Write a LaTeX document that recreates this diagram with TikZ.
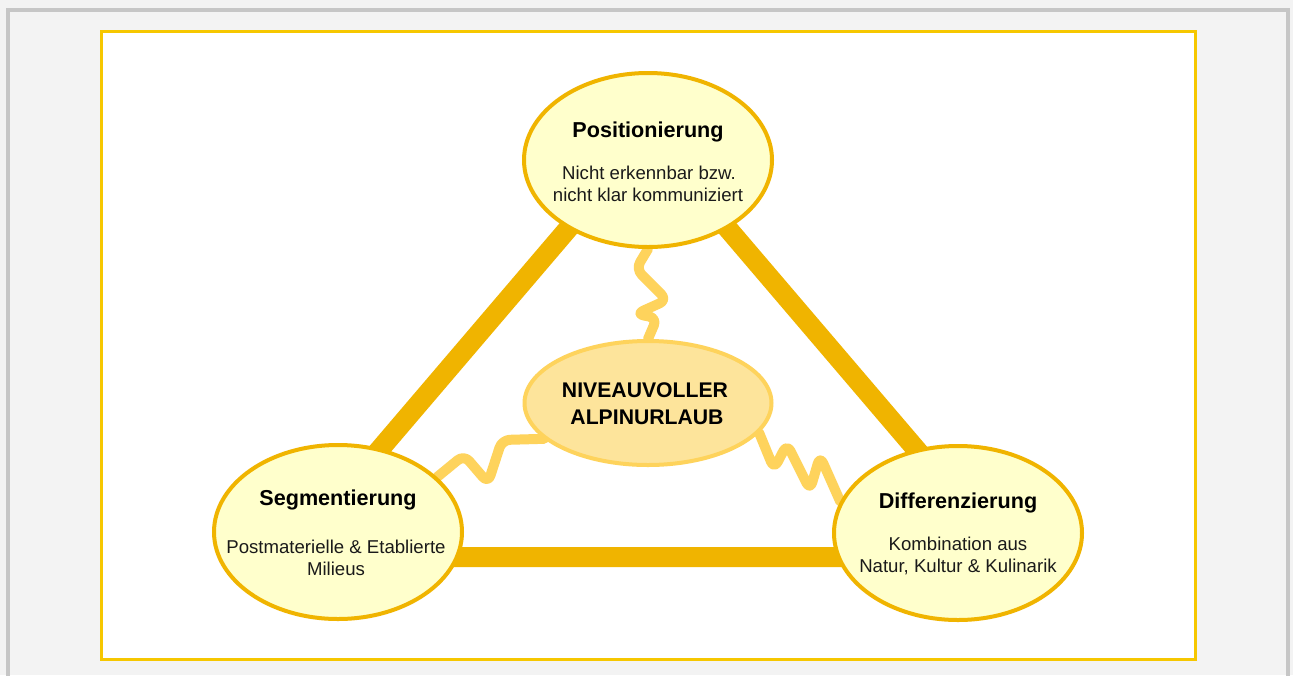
\documentclass[tikz,border=0pt]{standalone}
\usepackage{fontspec}
\setmainfont{Liberation Sans}
\usetikzlibrary{shapes.geometric}
\definecolor{pagegray}{HTML}{F3F3F3}
\definecolor{framegray}{HTML}{C6C6C6}
\definecolor{panelyellow}{HTML}{F6C700}
\definecolor{ambertone}{HTML}{F0B400}
\definecolor{paleyellow}{HTML}{FFFFCC}
\definecolor{softgold}{HTML}{FED35C}
\definecolor{hubfill}{HTML}{FDE49B}
\definecolor{subtext}{HTML}{1A1A1A}
\pgfdeclarelayer{canvas}
\pgfdeclarelayer{links}
\pgfsetlayers{canvas,links,main}
\begin{document}
\begin{tikzpicture}[x=1pt,y=-1pt,
  outer/.style={ellipse, draw=ambertone, line width=4pt, fill=paleyellow,
    minimum width=248pt, minimum height=174pt, inner sep=0pt},
  hub/.style={ellipse, draw=softgold, line width=4pt, fill=hubfill,
    minimum width=247pt, minimum height=124pt, inner sep=0pt},
  ttl/.style={anchor=base, inner sep=0pt, font=\fontsize{21.6}{24}\selectfont\bfseries},
  hubtxt/.style={anchor=base, inner sep=0pt, font=\fontsize{21.2}{24}\selectfont\bfseries},
  sub/.style={anchor=base, inner sep=0pt, font=\fontsize{18.6}{22}\selectfont, text=subtext},
  tri/.style={draw=ambertone, line width=20pt},
  wave/.style={draw=softgold, line width=10pt, line cap=round, line join=round, rounded corners=8pt}
]
\useasboundingbox (0,0) rectangle (1293,675);

% page and frames
\begin{pgfonlayer}{canvas}
  \fill[pagegray] (0,0) rectangle (1293,675);
  \draw[framegray, line width=4pt] (8,700) -- (8,9.5) -- (1287.5,9.5) -- (1287.5,700);
  \draw[panelyellow, line width=3pt, fill=white] (101.5,31) rectangle (1195.5,659.5);
\end{pgfonlayer}

% the three pillars and the core
\node[outer] (pos)  at (648,160) {};
\node[outer] (seg)  at (338,532) {};
\node[outer] (diff) at (958,533) {};
\node[hub]   (core) at (648,403) {};

% triangle corners, hidden inside the ellipses
\coordinate (vt) at (648,135);
\coordinate (vl) at (288,557);
\coordinate (vr) at (1008,557);

\begin{pgfonlayer}{links}
  \draw[tri] (vt) -- (vl) -- (vr) -- cycle;
  % wavy links from the core to each pillar
  \draw[wave] (pos.south) -- (636,269) -- (667,300) -- (636,314) -- (657,318) -- (core.north);
  \draw[wave] (seg.29) -- (464,455) -- (488,483) -- (502,440) -- (core.199);
  \draw[wave] (core.345) -- (774,469) -- (787,444) -- (810,490) -- (820,456) -- (diff.165);
\end{pgfonlayer}

% texts
\node[ttl] (posT)  at (648,137) {Positionierung};
\node[sub] (posA)  at (649,179) {Nicht erkennbar bzw.};
\node[sub] (posB)  at (648,201) {nicht klar kommuniziert};

\node[ttl] (segT)  at (338,505) {Segmentierung};
\node[sub] (segA)  at (336,553) {Postmaterielle \& Etablierte};
\node[sub] (segB)  at (336,575) {Milieus};

\node[ttl] (diffT) at (958,508) {Differenzierung};
\node[sub] (diffA) at (958,550) {Kombination aus};
\node[sub] (diffB) at (958,572) {Natur, Kultur \& Kulinarik};

\node[hubtxt] (coreA) at (645,397) {NIVEAUVOLLER};
\node[hubtxt] (coreB) at (647,424) {ALPINURLAUB};
\end{tikzpicture}
\end{document}
